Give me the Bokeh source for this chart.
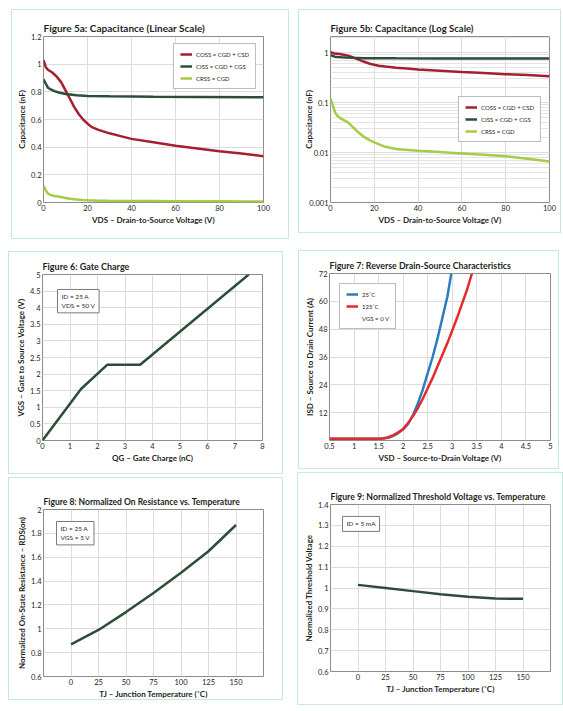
from bokeh.plotting import figure
from bokeh.layouts import row, column
from bokeh.models import (FixedTicker, NumeralTickFormatter, Legend, LegendItem,
                          Label, Range1d)
from bokeh.embed import file_html
from bokeh.resources import INLINE

FONT = "Lato"
TXT = "#231f20"

# ---------------- data ----------------
# Figure 5a / 5b: capacitance vs VDS
vds_oss = [0, 1, 2, 4, 6, 8, 10, 12, 14, 16, 18, 20, 22, 25, 30, 35, 40, 50, 60, 70, 80, 90, 100]
c_oss = [1.03, 0.98, 0.96, 0.94, 0.91, 0.87, 0.81, 0.75, 0.69, 0.64, 0.60, 0.57, 0.545, 0.525,
         0.50, 0.48, 0.46, 0.435, 0.41, 0.39, 0.37, 0.355, 0.335]
vds_iss = [0, 1, 2, 3, 5, 7, 10, 15, 20, 30, 50, 70, 100]
c_iss = [0.89, 0.86, 0.83, 0.82, 0.805, 0.795, 0.785, 0.775, 0.77, 0.768, 0.765, 0.763, 0.76]
vds_rss = [0, 1, 2, 3, 5, 8, 10, 12, 15, 18, 20, 25, 30, 40, 50, 60, 70, 80, 90, 100]
c_rss = [0.12, 0.09, 0.065, 0.055, 0.047, 0.04, 0.033, 0.027, 0.021, 0.0175, 0.016, 0.013,
         0.0118, 0.0108, 0.0102, 0.0096, 0.009, 0.0084, 0.0075, 0.0066]
cap_labels = ["COSS = CGD + CSD", "CISS = CGD + CGS", "CRSS = CGD"]

# Figure 6: gate charge
qg = [0, 1.4, 2.35, 3.55, 7.5]
vgs = [0, 1.55, 2.28, 2.28, 5.0]

# Figure 7: reverse drain-source characteristics
vsd_25 = [0.5, 1.0, 1.5, 1.6, 1.7, 1.8, 1.9, 2.0, 2.1, 2.2, 2.3, 2.4, 2.5, 2.6, 2.7, 2.8, 2.9, 2.98]
isd_25 = [0.8, 0.8, 0.8, 0.9, 1.2, 2.0, 3.2, 4.8, 7.2, 11, 16, 22, 29, 36, 44, 53, 62, 72]
vsd_125 = [0.5, 1.0, 1.5, 1.6, 1.7, 1.8, 1.9, 2.0, 2.1, 2.2, 2.3, 2.4, 2.5, 2.6, 2.7, 2.8, 2.9,
           3.0, 3.1, 3.2, 3.3, 3.4]
isd_125 = [0.8, 0.8, 0.8, 1.0, 1.4, 2.3, 3.5, 5.0, 7.5, 10.5, 14, 18, 22.5, 27, 32, 37, 42,
           47.5, 53, 59, 65, 72]
temp_labels = ["25\u02daC", "125\u02daC", "VGS = 0 V"]

# Figure 8: normalized on resistance vs temperature
tj_r = [0, 25, 50, 75, 100, 125, 150]
rds_norm = [0.87, 0.99, 1.14, 1.30, 1.47, 1.65, 1.87]

# Figure 9: normalized threshold voltage vs temperature
tj_v = [0, 25, 50, 75, 100, 125, 150]
vth_norm = [1.015, 1.0, 0.985, 0.97, 0.958, 0.95, 0.948]

# tick values
cap_x_ticks = [0, 20, 40, 60, 80, 100]
cap_lin_y_ticks = [0, 0.2, 0.4, 0.6, 0.8, 1.0, 1.2]
cap_log_y_ticks = [0.001, 0.01, 0.1, 1]
qg_ticks = [0, 1, 2, 3, 4, 5, 6, 7, 8]
vgs_ticks = [0, 0.5, 1, 1.5, 2, 2.5, 3, 3.5, 4, 4.5, 5]
vsd_ticks = [0.5, 1, 1.5, 2, 2.5, 3, 3.5, 4, 4.5, 5]
isd_ticks = [12, 24, 36, 48, 60, 72]
tj_ticks = [0, 25, 50, 75, 100, 125, 150]
r_ticks = [0.6, 0.8, 1.0, 1.2, 1.4, 1.6, 1.8, 2.0]
v_ticks = [0.6, 0.7, 0.8, 0.9, 1.0, 1.1, 1.2, 1.3, 1.4]

RED = "#a51f2f"
DKGREEN = "#2d4d38"
LTGREEN = "#a6cb45"
BLUE = "#2a7dc1"
RED2 = "#e32b2e"
FRAME = "#c3eadb"


def make(fw, fh, margin, borders, title, xr, yr, xticks, yticks, xlabel, ylabel,
         y_axis_type="linear", title_size="8.5px", ylab_standoff=1):
    p = figure(frame_width=fw, frame_height=fh, margin=margin, x_range=xr, y_range=yr,
               y_axis_type=y_axis_type, output_backend="svg", toolbar_location=None,
               min_border_left=borders[0], min_border_right=borders[1],
               min_border_top=borders[2], min_border_bottom=borders[3],
               background_fill_color="white", border_fill_color="white",
               styles={"outline": "1px solid " + FRAME})
    p.title.text = title
    p.title.text_font = FONT
    p.title.text_font_size = title_size
    p.title.text_font_style = "bold"
    p.title.text_color = TXT
    p.title.align = "left"
    p.title.standoff = 5
    p.outline_line_color = "#8c8c8c"
    p.outline_line_width = 1
    for ax in (p.xaxis[0], p.yaxis[0]):
        ax.axis_line_color = None
        ax.major_tick_line_color = None
        ax.minor_tick_line_color = None
        ax.major_tick_out = 0
        ax.major_tick_in = 0
        ax.minor_tick_out = 0
        ax.minor_tick_in = 0
        ax.major_label_text_font = FONT
        ax.major_label_text_font_size = "7.5px"
        ax.major_label_text_color = TXT
        ax.major_label_standoff = 2
        ax.axis_label_text_font = FONT
        ax.axis_label_text_font_size = "8px"
        ax.axis_label_text_font_style = "bold"
        ax.axis_label_text_color = TXT
        ax.axis_label_standoff = 1
    p.yaxis[0].axis_label_standoff = ylab_standoff
    p.xaxis[0].ticker = FixedTicker(ticks=xticks)
    p.xaxis[0].axis_label = xlabel
    p.yaxis[0].axis_label = ylabel
    if y_axis_type == "linear":
        p.yaxis[0].ticker = FixedTicker(ticks=yticks)
        p.yaxis[0].formatter = NumeralTickFormatter(format="0.[0]")
        p.ygrid[0].ticker = FixedTicker(ticks=yticks)
    p.xaxis[0].formatter = NumeralTickFormatter(format="0.[0]")
    p.xgrid[0].ticker = FixedTicker(ticks=xticks)
    p.xgrid.grid_line_color = "#dcdcdc"
    p.ygrid.grid_line_color = "#dcdcdc"
    return p


def legend_style(lg):
    lg.label_text_font = FONT
    lg.label_text_font_size = "6px"
    lg.label_text_color = TXT
    lg.label_height = 8
    lg.label_standoff = 4
    lg.glyph_height = 8
    lg.glyph_width = 12
    lg.spacing = 4
    lg.padding = 6
    lg.border_line_color = "#7a7a7a"
    lg.border_line_width = 1
    lg.background_fill_alpha = 1.0


def box_label(p, x, y, text):
    p.add_layout(Label(x=x, y=y, text=text, text_font=FONT,
                       text_font_size="6.5px", text_color=TXT, text_align="left",
                       text_baseline="top", x_offset=4, y_offset=-4,
                       border_line_color="#7a7a7a", background_fill_color="white",
                       padding=4))


# ---- Figure 5a ----
p1 = make(220, 166, (10, 0, 7, 12), (31, 25, 26, 36), "Figure 5a: Capacitance (Linear Scale)",
          Range1d(0, 100), Range1d(0, 1.2), cap_x_ticks, cap_lin_y_ticks,
          "VDS \u2013 Drain-to-Source Voltage (V)", "Capacitance (nF)", title_size="10px")
r1a = p1.line(vds_oss, c_oss, line_color=RED, line_width=2.5)
r1b = p1.line(vds_iss, c_iss, line_color=DKGREEN, line_width=2.5)
r1c = p1.line(vds_rss, c_rss, line_color=LTGREEN, line_width=2.5)
lg1 = Legend(items=[LegendItem(label=cap_labels[0], renderers=[r1a]),
                    LegendItem(label=cap_labels[1], renderers=[r1b]),
                    LegendItem(label=cap_labels[2], renderers=[r1c])],
             location="top_right", margin=7)
legend_style(lg1)
p1.add_layout(lg1)

# ---- Figure 5b ----
p2 = make(219, 166, (10, 0, 13, 11), (31, 11, 26, 30), "Figure 5b: Capacitance (Log Scale)",
          Range1d(0, 100), Range1d(0.001, 2.1), cap_x_ticks, cap_log_y_ticks,
          "VDS \u2013 Drain-to-Source Voltage (V)", "Capacitance (nF)", y_axis_type="log",
          title_size="9.5px", ylab_standoff=-8)
p2.yaxis[0].ticker.desired_num_ticks = 4
p2.yaxis[0].formatter = NumeralTickFormatter(format="0.[000]")
p2.ygrid.minor_grid_line_color = "#e4e4e4"
r2a = p2.line(vds_oss, c_oss, line_color=RED, line_width=2.5)
r2b = p2.line(vds_iss, c_iss, line_color=DKGREEN, line_width=2.5)
r2c = p2.line(vds_rss, c_rss, line_color=LTGREEN, line_width=2.5)
lg2 = Legend(items=[LegendItem(label=cap_labels[0], renderers=[r2a]),
                    LegendItem(label=cap_labels[1], renderers=[r2b]),
                    LegendItem(label=cap_labels[2], renderers=[r2c])],
             location="center_right", margin=8)
legend_style(lg2)
p2.add_layout(lg2)

# ---- Figure 6 ----
p3 = make(220, 166, (7, 0, 0, 9), (33, 20, 21, 34), "Figure 6: Gate Charge",
          Range1d(0, 8), Range1d(0, 5), qg_ticks, vgs_ticks,
          "QG \u2013 Gate Charge (nC)", "VGS \u2013 Gate to Source Voltage (V)", title_size="9px")
p3.line(qg, vgs, line_color=DKGREEN, line_width=2.5)
box_label(p3, 0.4, 4.67, "ID = 25 A\nVDS = 50 V")

# ---- Figure 7 ----
p4 = make(221, 167, (6, 0, 5, 17), (30, 8, 22, 28), "Figure 7: Reverse Drain-Source Characteristics",
          Range1d(0.5, 5), Range1d(0, 72), vsd_ticks, isd_ticks,
          "VSD \u2013 Source-to-Drain Voltage (V)", "ISD \u2013 Source to Drain Current (A)",
          title_size="8.8px")
r4a = p4.line(vsd_25, isd_25, line_color=BLUE, line_width=2.5)
r4b = p4.line(vsd_125, isd_125, line_color=RED2, line_width=2.5)
r4c = p4.line([0.5], [0], line_alpha=0)
lg4 = Legend(items=[LegendItem(label=temp_labels[0], renderers=[r4a]),
                    LegendItem(label=temp_labels[1], renderers=[r4b]),
                    LegendItem(label=temp_labels[2], renderers=[r4c])],
             location="top_left", margin=10)
legend_style(lg4)
p4.add_layout(lg4)

# ---- Figure 8 ----
p5 = make(220, 167, (5, 0, 6, 9), (34, 19, 26, 28), "Figure 8: Normalized On Resistance vs. Temperature",
          Range1d(-25, 175), Range1d(0.6, 2.0), tj_ticks, r_ticks,
          "TJ \u2013 Junction Temperature (\u02daC)", "Normalized On-State Resistance \u2013 RDS(on)",
          title_size="8.5px")
p5.line(tj_r, rds_norm, line_color=DKGREEN, line_width=2.5)
box_label(p5, -16.8, 1.933, "ID = 25 A\nVGS = 5 V")

# ---- Figure 9 ----
p6 = make(220, 167, (0, 0, 1, 16), (32, 12, 31, 33), "Figure 9: Normalized Threshold Voltage vs. Temperature",
          Range1d(-25, 175), Range1d(0.6, 1.4), tj_ticks, v_ticks,
          "TJ \u2013 Junction Temperature (\u02daC)", "Normalized Threshold Voltage",
          title_size="8.7px")
p6.line(tj_v, vth_norm, line_color=DKGREEN, line_width=2.5)
box_label(p6, -17.7, 1.362, "ID = 5 mA")

layout = column(row(p1, p2), row(p3, p4), row(p5, p6))
open("out.html", "w").write(file_html(layout, INLINE))
